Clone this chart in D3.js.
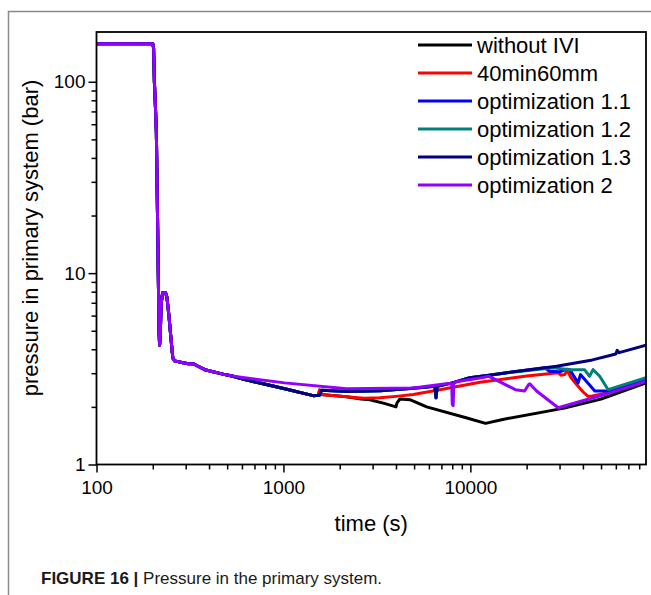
<!DOCTYPE html>
<meta charset="utf-8">
<style>
    body { margin: 0; background: #fff; }
    svg { display: block; font-family: "Liberation Sans", Arial, sans-serif; }
    .tick text { font-size: 19px; fill: #000; }
    .axisLabel { font-size: 22px; text-anchor: middle; }
    .legend text { font-size: 22px; }
</style>
<body>
<script src="https://d3js.org/d3.v7.min.js"></script>
<script>
    // figure size
    let width = 651;
    let height = 595;
    let plot = {left: 96.5, right: 646, top: 32, bottom: 464.5};

    // ---- data: [time (s), pressure (bar)] ----
    // all cases run identically through the blowdown
    let early = [[100,158],[200,158],[202,150],[204,100],[206,80],[209,55],[212,20],[214,10],[216,5],
        [217.5,4.2],[219,4.6],[222,7],[226,7.9],[234,7.9],[238,7.5],[244,6],[250,4.6],[256,3.6],
        [262,3.48],[290,3.4],[310,3.36],[330,3.36],[345,3.28],[380,3.13],[486,2.95],[530,2.9]];

    let opt2Tail = [[621,2.84],[1015,2.67],[2178,2.49],[4946,2.51],[7600,2.65],[7950,2.64],[8000,2.06],
        [8090,2.03],[8150,2.64],[8250,2.7],[11250,2.83],[12600,2.89],[17400,2.46],[19500,2.42],
        [20500,2.62],[20800,2.64],[22600,2.42],[29500,1.98],[52200,2.32],[87000,2.72]];

    let opt13Tail = [[621,2.78],[1015,2.49],[1442,2.29],[1560,2.3],[1600,2.44],[2200,2.41],[3300,2.43],
        [4946,2.5],[6450,2.56],[6550,2.23],[6650,2.56],[8000,2.67],[9930,2.84],[12600,2.93],
        [15000,3.0],[28900,3.26],[45000,3.52],[60000,3.78],[61000,3.95],[62500,3.84],[87000,4.2]];

    let opt11Tail = [[25000,3.2],[26500,3.07],[30000,3.05],[33000,3.15],[34000,3.13],[37700,2.67],
        [38800,2.95],[46300,2.42],[54600,2.42],[87000,2.79]];

    let opt12Tail = [[27700,3.2],[34000,3.13],[40800,3.13],[43400,2.89],[45300,3.13],[49200,2.89],
        [54600,2.46],[87000,2.84]];

    let redTail = [[1540,2.3],[1560,2.45],[1590,2.32],[2178,2.26],[2700,2.22],[3281,2.23],[4000,2.27],
        [4946,2.32],[6856,2.46],[11250,2.69],[20000,2.9],[29500,3.02],[30500,2.93],[32000,2.95],
        [33000,3.1],[34500,2.85],[37000,2.62],[40000,2.4],[42600,2.27],[45000,2.28],[52200,2.35],[87000,2.74]];

    let blackTail = [[2600,2.2],[2900,2.18],[3500,2.08],[4000,2.0],[4050,2.1],[4200,2.2],[4750,2.18],
        [5837,2.0],[9590,1.75],[12050,1.64],[14900,1.72],[31800,1.97],[50000,2.2],[87000,2.67]];

    let navyPath = early.concat(opt13Tail);
    let redPath = early.concat(opt13Tail.filter(d => d[0] < 1540), redTail);
    let series = [
        {name: "without IVI", color: "#000000", values: redPath.filter(d => d[0] < 2600).concat(blackTail)},
        {name: "40min60mm", color: "#ff0000", values: redPath},
        {name: "optimization 1.1", color: "#0000ff", values: navyPath.filter(d => d[0] < 25000).concat(opt11Tail)},
        {name: "optimization 1.2", color: "#008078", values: navyPath.filter(d => d[0] < 27700).concat(opt12Tail)},
        {name: "optimization 1.3", color: "#000080", values: navyPath},
        {name: "optimization 2", color: "#9400ff", values: early.concat(opt2Tail)}
    ];

    let xMajor = [100, 1000, 10000];
    let xMinor = [200,300,400,500,600,700,800,900,2000,3000,4000,5000,6000,7000,8000,9000,
        20000,30000,40000,50000,60000,70000,80000];
    let yMajor = [1, 10, 100];
    let yMinor = [2,3,4,5,6,7,8,9,20,30,40,50,60,70,80,90];

    let svg = d3.select("body").append("svg")
        .attr("width", width)
        .attr("height", height);

    // journal frame (top + left rule)
    svg.append("path")
        .attr("d", "M8.5,595V11.5H651")
        .attr("fill", "none")
        .attr("stroke", "#8a8a8a")
        .attr("stroke-width", 1.5);

    let x = d3.scaleLog().domain([100, 87000]).range([plot.left, plot.right]);
    let y = d3.scaleLog().domain([1, 182]).range([plot.bottom, plot.top]);

    // minor ticks
    svg.append("g")
        .attr("transform", "translate(0," + plot.bottom + ")")
        .call(d3.axisBottom(x).tickValues(xMinor).tickSize(5).tickFormat(""))
        .call(g => g.select(".domain").remove())
        .call(g => g.selectAll("line").attr("stroke-width", 1.5));
    svg.append("g")
        .attr("transform", "translate(" + plot.left + ",0)")
        .call(d3.axisLeft(y).tickValues(yMinor).tickSize(5).tickFormat(""))
        .call(g => g.select(".domain").remove())
        .call(g => g.selectAll("line").attr("stroke-width", 1.5));

    // major ticks
    svg.append("g")
        .attr("transform", "translate(0," + plot.bottom + ")")
        .call(d3.axisBottom(x).tickValues(xMajor).tickSize(8).tickPadding(8).tickFormat(d3.format("d")))
        .call(g => g.select(".domain").remove())
        .call(g => g.selectAll("line").attr("stroke-width", 1.5));
    svg.append("g")
        .attr("transform", "translate(" + plot.left + ",0)")
        .call(d3.axisLeft(y).tickValues(yMajor).tickSize(8).tickPadding(3).tickFormat(d3.format("d")))
        .call(g => g.select(".domain").remove())
        .call(g => g.selectAll("line").attr("stroke-width", 1.5));

    svg.append("clipPath").attr("id", "plotClip")
        .append("rect")
        .attr("x", plot.left).attr("y", plot.top)
        .attr("width", plot.right - plot.left).attr("height", plot.bottom - plot.top);

    let line = d3.line()
        .x(d => x(d[0]))
        .y(d => y(d[1]));

    svg.append("g")
        .attr("clip-path", "url(#plotClip)")
        .selectAll("path")
        .data(series)
        .join("path")
            .attr("d", d => line(d.values))
            .attr("fill", "none")
            .attr("stroke", d => d.color)
            .attr("stroke-width", 3)
            .attr("stroke-linejoin", "round");

    // plot frame
    svg.append("rect")
        .attr("x", plot.left).attr("y", plot.top)
        .attr("width", plot.right - plot.left).attr("height", plot.bottom - plot.top)
        .attr("fill", "none")
        .attr("stroke", "#000")
        .attr("stroke-width", 1.8);

    // axis titles
    svg.append("text")
        .attr("class", "axisLabel")
        .attr("x", (plot.left + plot.right) / 2)
        .attr("y", 531)
        .text("time (s)");
    svg.append("text")
        .attr("class", "axisLabel")
        .attr("transform", "translate(38,238) rotate(-90)")
        .text("pressure in primary system (bar)");

    // legend
    let legend = svg.append("g").attr("class", "legend")
        .selectAll("g")
        .data(series)
        .join("g")
            .attr("transform", (d, i) => "translate(418," + (45 + i * 28) + ")");
    legend.append("line")
        .attr("x1", 0).attr("x2", 54)
        .attr("stroke", d => d.color)
        .attr("stroke-width", 3);
    legend.append("text")
        .attr("x", 59)
        .attr("dy", "0.35em")
        .text(d => d.name);

    // caption
    let caption = svg.append("text")
        .attr("x", 41)
        .attr("y", 584)
        .attr("font-size", 17)
        .attr("fill", "#1a1a1a");
    caption.append("tspan").attr("font-weight", "bold").text("FIGURE 16 | ");
    caption.append("tspan").text("Pressure in the primary system.");
</script>
</body>
